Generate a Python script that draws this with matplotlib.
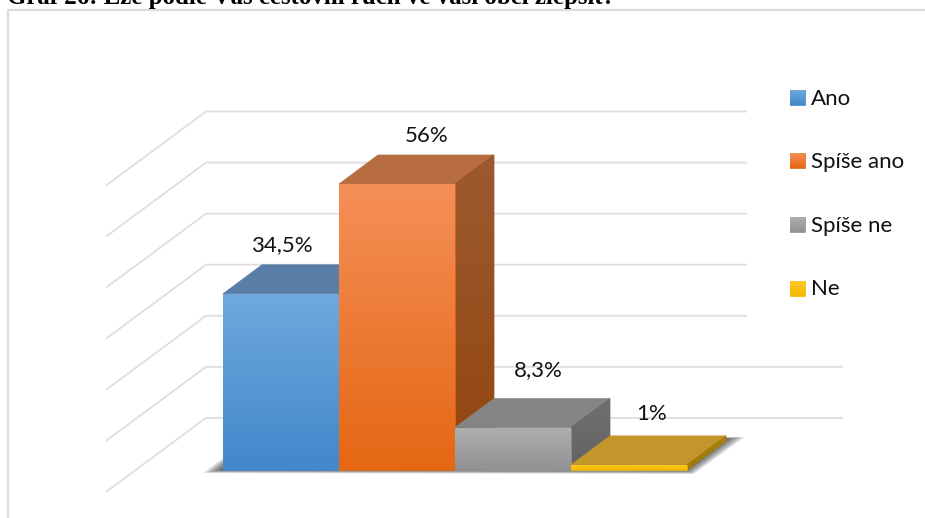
import numpy as np
import matplotlib
matplotlib.use("Agg")
import matplotlib.pyplot as plt
from matplotlib.patches import Polygon
from matplotlib.colors import LinearSegmentedColormap

categories = ["Ano", "Spíše ano", "Spíše ne", "Ne"]
values = [34.5, 56, 8.3, 1]
value_labels = ["34,5%", "56%", "8,3%", "1%"]
grid_values = [10, 20, 30, 40, 50, 60, 70]
title = "Graf 26: Lze podle Vás cestovní ruch ve vaší obci zlepšit?"

W, H = 925, 518
PX_X = 116.0      # px per category
PX_Y = 5.107      # px per percent
fig = plt.figure(figsize=(W / 100, H / 100), dpi=100)
ax = fig.add_axes([0, 0, 1, 1])
x0, y0 = 223, 470
ax.set_xlim(-x0 / PX_X, (W - x0) / PX_X)
ax.set_ylim((y0 - H) / PX_Y, y0 / PX_Y)
ax.axis("off")
xlim, ylim = ax.get_xlim(), ax.get_ylim()


def px(x, y):
    return ((x - x0) / PX_X, (y0 - y) / PX_Y)


dx = 39 / PX_X
dy = 29 / PX_Y

front = [("#6FA8DE", "#4288CB"), ("#F58F58", "#E56713"), ("#AFAFAF", "#929292"), ("#FFCB2B", "#F5B800")]
tops = ["#587DA6", "#B86C42", "#858585", "#C2962B"]
sides = [("#4F7AA8", "#345F8C"), ("#9C5A30", "#934610"), ("#707070", "#626262"), ("#A8810F", "#A07A08")]


def gradient(verts, c_top, c_bot, z):
    cmap = LinearSegmentedColormap.from_list("g", [c_top, c_bot])
    xs, ys = zip(*verts)
    ax.add_patch(Polygon(verts, closed=True, fc=c_bot, ec=c_bot, lw=0.5, zorder=z))
    im = ax.imshow(np.linspace(0, 1, 128).reshape(-1, 1), cmap=cmap, aspect="auto",
                   extent=[min(xs), max(xs), min(ys), max(ys)], origin="upper",
                   zorder=z, interpolation="bilinear")
    clip = Polygon(verts, closed=True, transform=ax.transData, fc="none", ec="none")
    ax.add_patch(clip)
    im.set_clip_path(clip)


# frame of the picture
ax.add_line(plt.Line2D([7.5 / W, 7.5 / W, 1], [0, 1 - 9.5 / H, 1 - 9.5 / H],
                       transform=ax.transAxes, color="#DCDCDC", lw=1.6, zorder=1))

# gridlines: back wall and side wall
back_x = px(206, 0)[0]
side_x = px(106, 0)[0]
side_dy = 74 / PX_Y
for g in grid_values:
    gy = g + 1 / PX_Y
    right = px(747 if g > 20 else 843, 0)[0]
    ax.plot([side_x, back_x, right], [gy - side_dy, gy, gy],
            color="#DEDEDE", lw=1.3, zorder=2, solid_joinstyle="miter", solid_capstyle="butt")

# soft floor shadow, built from layers between an outer and an inner outline
outer = np.array([(203, 473), (694, 474), (745, 437), (250, 437)], float)
inner = np.array([(226, 469), (684, 469), (722, 439), (264, 439)], float)
layers = 14
for k in range(layers):
    t = k / (layers - 1)
    pts = outer + (inner - outer) * t
    ax.add_patch(Polygon([px(*p) for p in pts], closed=True, fc="#222222", ec="none",
                         alpha=0.09, zorder=3))

# bars, drawn from left to right
for i, v in enumerate(values):
    z = 4 + i
    ax.add_patch(Polygon([(i, v), (i + 1, v), (i + 1 + dx, v + dy), (i + dx, v + dy)],
                         closed=True, fc=tops[i], ec=tops[i], lw=0.5, zorder=z))
    gradient([(i + 1, 0), (i + 1 + dx, dy), (i + 1 + dx, v + dy), (i + 1, v)], sides[i][0], sides[i][1], z)
    gradient([(i, 0), (i + 1, 0), (i + 1, v), (i, v)], front[i][0], front[i][1], z + 0.5)

# data labels
label_x = [282, 427, 538, 652]
label_y = [245, 136, 370, 414]
for xp, yp, lab in zip(label_x, label_y, value_labels):
    ax.text(*px(xp, yp), lab, ha="center", va="center", fontsize=16, family="Lato", color="#111111", zorder=20)

# legend
leg_y = [97.5, 160.5, 224.5, 288]
for name, ly, (c1, c2) in zip(categories, leg_y, front):
    a = px(790, ly + 7.5)
    b = px(805, ly - 7.5)
    gradient([a, (b[0], a[1]), b, (a[0], b[1])], c1, c2, 20)
    ax.text(*px(811, ly + 1), name, ha="left", va="center", fontsize=16, family="Lato",
            color="#111111", zorder=20)

# title, cut by the top edge as in the reference
ax.text(*px(7, 4), title, ha="left", va="baseline", fontsize=17.9,
        family="Liberation Serif", weight="bold", color="black", zorder=20, clip_on=True)

ax.set_xlim(xlim)
ax.set_ylim(ylim)
fig.savefig("out.png", dpi=100)
